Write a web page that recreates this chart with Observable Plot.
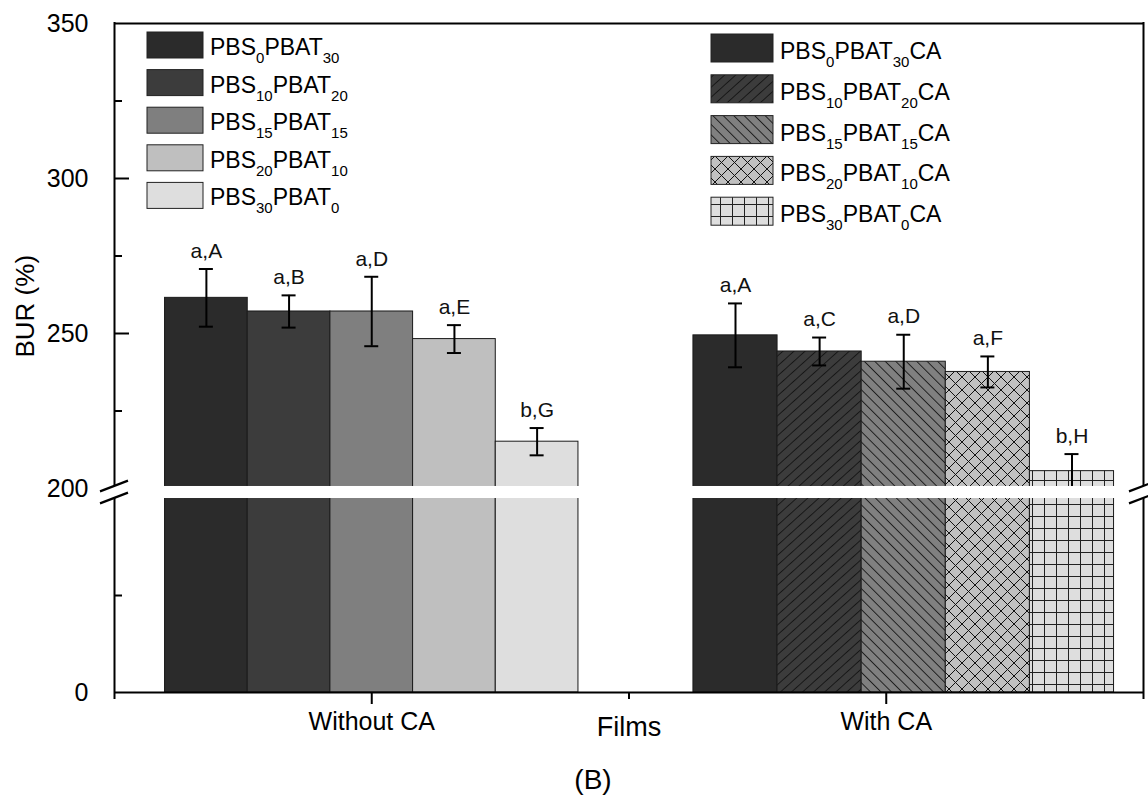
<!DOCTYPE html>
<html><head><meta charset="utf-8">
<script src="https://cdn.jsdelivr.net/npm/d3@7"></script>
<script src="https://cdn.jsdelivr.net/npm/@observablehq/plot@0.6"></script>
<style>
body{margin:0;background:#fff}
#chart svg{font-family:Arial,"Liberation Sans",sans-serif}
</style>
</head><body><div id="chart"></div>
<script>
// ---- data ----
const groups = ["Without CA", "With CA"];
const pbsSub = ["0", "10", "15", "20", "30"];
const pbatSub = ["30", "20", "15", "10", "0"];
const burWithout = [261.5, 257.1, 257.1, 248.2, 215.1];
const errWithout = [9.3, 5.2, 11.2, 4.5, 4.4];
const burWith = [249.4, 244.2, 240.9, 237.6, 205.6];
const errWith = [10.3, 4.5, 8.7, 5.0, 5.5];
const lettersWithout = ["a,A", "a,B", "a,D", "a,E", "b,G"];
const lettersWith = ["a,A", "a,C", "a,D", "a,F", "b,H"];
const yTickLabels = [0, 200, 250, 300, 350];
const yMajorTicks = [250, 300];
const yMinorTicks = [100, 225, 275, 325];
const xMajorTicks = [1, 2];
const xMinorTicks = [0.5, 1.5, 2.5];

// ---- layout / style ----
const W = 1148, H = 805;
const M = {top: 22, right: 5, bottom: 113, left: 114};
const frameW = W - M.left - M.right;
const pxu = frameW / 2;              // pixels per x unit
const brk = v => v < 200 ? v * 0.97 : 204 + (v - 200) * 3.1;   // broken axis
const centers = [1.0, 2.034];
const barWs = [0.1607, 0.1635];
const shades = ["#2b2b2b", "#3c3c3c", "#7f7f7f", "#bfbfbf", "#dedede"];
const withFills = ["#2b2b2b", "url(#hatch-fwd)", "url(#hatch-back)", "url(#hatch-cross)", "url(#hatch-grid)"];

const rows = [];
groups.forEach((g, gi) => {
  const vals = gi ? burWith : burWithout;
  const errs = gi ? errWith : errWithout;
  const lets = gi ? lettersWith : lettersWithout;
  const bw = barWs[gi];
  vals.forEach((v, i) => {
    const c = centers[gi] + (i - 2) * bw;
    rows.push({group: g, i, value: v, err: errs[i], letter: lets[i],
      xc: c, x1: c - bw / 2, x2: c + bw / 2, fill: gi ? withFills[i] : shades[i]});
  });
});
const capHalf = 7 / pxu;
const tickLen = 15 / pxu, minorLen = 8 / pxu;

function defs() {
  const d = d3.create("svg:defs");
  const mk = (id, size, bg, rot, draw) => {
    const p = d.append("pattern").attr("id", id).attr("patternUnits", "userSpaceOnUse")
      .attr("width", size[0]).attr("height", size[1]);
    if (rot) p.attr("patternTransform", `rotate(${rot})`);
    p.append("rect").attr("width", size[0]).attr("height", size[1]).attr("fill", bg);
    draw(p);
  };
  mk("hatch-fwd", [7.4, 10], "#3c3c3c", 48, p => p.append("line").attr("x1", 0.5).attr("x2", 0.5).attr("y1", 0).attr("y2", 10).attr("stroke", "#111").attr("stroke-width", 0.9));
  mk("hatch-back", [7.4, 10], "#808080", -45, p => p.append("line").attr("x1", 0.5).attr("x2", 0.5).attr("y1", 0).attr("y2", 10).attr("stroke", "#111").attr("stroke-width", 0.9));
  mk("hatch-cross", [13, 13], "#c0c0c0", 0, p => {
    p.append("line").attr("x1", 0).attr("y1", 0).attr("x2", 13).attr("y2", 13).attr("stroke", "#111").attr("stroke-width", 1);
    p.append("line").attr("x1", 13).attr("y1", 0).attr("x2", 0).attr("y2", 13).attr("stroke", "#111").attr("stroke-width", 1);
  });
  mk("hatch-grid", [12, 12], "#dedede", 0, p => {
    p.append("line").attr("x1", 0.5).attr("y1", 0).attr("x2", 0.5).attr("y2", 12).attr("stroke", "#222").attr("stroke-width", 1);
    p.append("line").attr("x1", 0).attr("y1", 0.5).attr("x2", 12).attr("y2", 0.5).attr("stroke", "#222").attr("stroke-width", 1);
  });
  return d.node();
}

function breakMarks(index, scales, values, dim) {
  const g = d3.create("svg:g");
  const yTop = dim.height - dim.marginBottom - 206;   // band top (virtual = px)
  const yBot = dim.height - dim.marginBottom - 194;
  const s = 10.7 / 28;
  [dim.marginLeft, dim.width - dim.marginRight].forEach(cx => {
    const L = 14;
    g.append("path").attr("fill", "white")
      .attr("d", `M${cx - L},${yTop + L * s}L${cx + L},${yTop - L * s}L${cx + L},${yBot - L * s}L${cx - L},${yBot + L * s}Z`);
    [yTop, yBot].forEach(yc => g.append("line")
      .attr("x1", cx - L).attr("y1", yc + L * s).attr("x2", cx + L).attr("y2", yc - L * s)
      .attr("stroke", "#000").attr("stroke-width", 2.2));
  });
  return g.node();
}

function legend() {
  const g = d3.create("svg:g").attr("font-size", 23).attr("fill", "#000").attr("text-anchor", "start");
  const item = (x, top, w, h, fill, tx, a, b, ca) => {
    g.append("rect").attr("x", x).attr("y", top).attr("width", w).attr("height", h)
      .attr("fill", fill).attr("stroke", "#222").attr("stroke-width", 1);
    const t = g.append("text").attr("x", tx).attr("y", top + h - 3).attr("text-anchor", "start");
    t.append("tspan").text("PBS");
    t.append("tspan").attr("font-size", 15).attr("dy", 8).text(a);
    t.append("tspan").attr("dy", -8).text("PBAT");
    t.append("tspan").attr("font-size", 15).attr("dy", 8).text(b);
    if (ca) t.append("tspan").attr("dy", -8).text("CA");
  };
  pbsSub.forEach((a, i) => item(147, 32 + i * 37.6, 56, 26, shades[i], 210, a, pbatSub[i], false));
  pbsSub.forEach((a, i) => item(711, 34 + i * 40.8, 62, 28, withFills[i], 780, a, pbatSub[i], true));
  return g.node();
}

const chart = Plot.plot({
  width: W, height: H,
  marginTop: M.top, marginRight: M.right, marginBottom: M.bottom, marginLeft: M.left,
  x: {domain: [0.5, 2.5], axis: null},
  y: {domain: [0, 670], transform: brk, axis: null},
  color: {type: "identity"},
  style: {background: "#fff", color: "#000", overflow: "visible"},
  marks: [
    defs,
    Plot.rect(rows, {x1: "x1", x2: "x2", y1: 0, y2: "value", fill: "fill", stroke: "#1a1a1a", strokeWidth: 1}),
    Plot.ruleX(rows, {x: "xc", y1: d => d.value - d.err, y2: d => d.value + d.err, stroke: "#000", strokeWidth: 2}),
    Plot.ruleY(rows, {y: d => d.value + d.err, x1: d => d.xc - capHalf, x2: d => d.xc + capHalf, stroke: "#000", strokeWidth: 2}),
    Plot.ruleY(rows, {y: d => d.value - d.err, x1: d => d.xc - capHalf, x2: d => d.xc + capHalf, stroke: "#000", strokeWidth: 2}),
    Plot.text(rows, {x: "xc", y: d => d.value + d.err, text: "letter", dy: -18, fontSize: 21, fill: "#111"}),
    // white break band
    Plot.rect([0], {x1: 0.5, x2: 2.5, y1: 199.99, y2: 200.65, fill: "white"}),
    // frame
    Plot.ruleY([0, 350], {stroke: "#000", strokeWidth: 2}),
    Plot.ruleX([0.5, 2.5], {stroke: "#000", strokeWidth: 2}),
    // inward y ticks
    Plot.ruleY(yMajorTicks, {x1: 0.5, x2: 0.5 + tickLen, stroke: "#000", strokeWidth: 2}),
    Plot.ruleY(yMinorTicks, {x1: 0.5, x2: 0.5 + minorLen, stroke: "#000", strokeWidth: 2}),
    Plot.axisY(yTickLabels, {tickSize: 0, tickPadding: 26, fontSize: 25, label: null, tickFormat: d => String(d)}),
    Plot.axisX(xMajorTicks, {tickSize: 12, tickPadding: 8, fontSize: 25, label: null, strokeWidth: 2, tickFormat: d => groups[d - 1]}),
    Plot.axisX(xMinorTicks, {tickSize: 7, label: null, strokeWidth: 2, tickFormat: () => ""}),
    breakMarks,
    legend,
    Plot.text(["BUR (%)"], {frameAnchor: "left", dx: -89, rotate: -90, fontSize: 26, fill: "#000"}),
    Plot.text(["Films"], {frameAnchor: "bottom", dy: 43, fontSize: 27, fill: "#000"}),
    Plot.text(["(B)"], {frameAnchor: "bottom", dx: -36, dy: 96, fontSize: 28, fill: "#000"})
  ]
});
document.getElementById("chart").append(chart);
</script>
</body></html>
